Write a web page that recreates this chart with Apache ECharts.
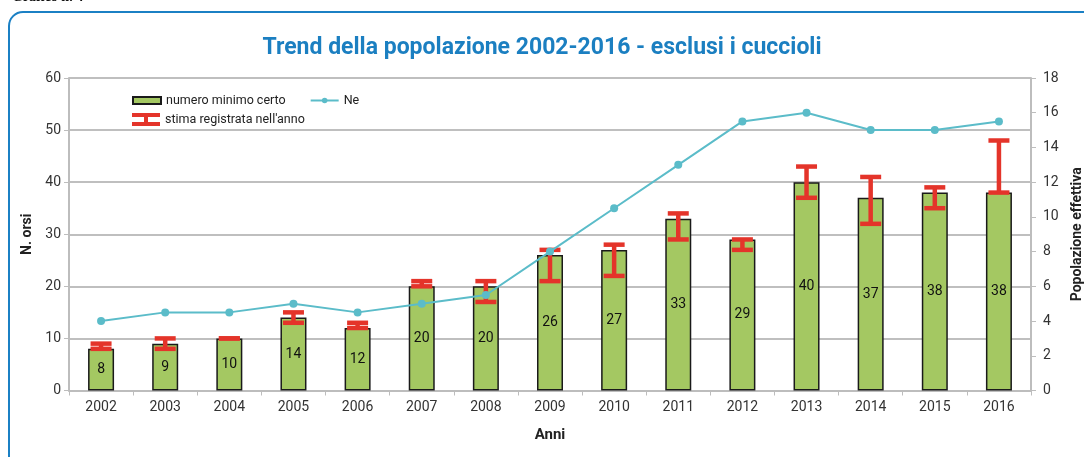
<!DOCTYPE html>
<html>
<head>
<meta charset="utf-8">
<script src="https://cdn.jsdelivr.net/npm/echarts@6/dist/echarts.min.js"></script>
<style>
  html, body { margin: 0; padding: 0; background: #fff; }
  #chart { width: 1084px; height: 457px; }
</style>
</head>
<body>
<div id="chart"></div>
<script>
const years = ['2002','2003','2004','2005','2006','2007','2008','2009','2010','2011','2012','2013','2014','2015','2016']
// numero minimo certo
const minCerto = [8, 9, 10, 14, 12, 20, 20, 26, 27, 33, 29, 40, 37, 38, 38]
// stima registrata nell'anno (min / max)
const stimaMin = [8, 8, 10, 13, 12, 20, 17, 21, 22, 29, 27, 37, 32, 35, 38]
const stimaMax = [9, 10, 10, 15, 13, 21, 21, 27, 28, 34, 29, 43, 41, 39, 48]
// Ne - popolazione effettiva
const ne = [4, 4.5, 4.5, 5, 4.5, 5, 5.5, 8, 10.5, 13, 15.5, 16, 15, 15, 15.5]

const font = 'Roboto'
const red = '#e4342a'
const teal = '#5bbcc9'

const stimaData = years.map((y, i) => [i, stimaMin[i], stimaMax[i]])

function renderStima(params, api) {
  const x = api.value(0)
  const lo = api.coord([x, api.value(1)])
  const hi = api.coord([x, api.value(2)])
  const half = 10.5
  const st = { stroke: red, lineWidth: 4.5, lineCap: 'butt' }
  return {
    type: 'group',
    children: [
      { type: 'line', shape: { x1: lo[0], y1: lo[1], x2: hi[0], y2: hi[1] }, style: st },
      { type: 'line', shape: { x1: lo[0] - half, y1: lo[1], x2: lo[0] + half, y2: lo[1] }, style: st },
      { type: 'line', shape: { x1: hi[0] - half, y1: hi[1], x2: hi[0] + half, y2: hi[1] }, style: st }
    ]
  }
}

const chart = echarts.init(document.getElementById('chart'))

const options = {
  animation: false,
  textStyle: { fontFamily: font },
  title: {
    text: 'Trend della popolazione 2002-2016 - esclusi i cuccioli',
    left: 'center',
    top: 32,
    textStyle: { color: '#1b7fc1', fontSize: 23, fontWeight: 'bold', fontFamily: font }
  },
  graphic: [
    {
      type: 'rect',
      shape: { x: 9, y: 12, width: 1090, height: 480, r: 14 },
      style: { fill: 'none', stroke: '#1b80c4', lineWidth: 2 },
      silent: true
    },
    {
      type: 'text',
      left: 12,
      top: -10,
      style: { text: 'Grafico n. 4', font: 'bold 14px "Liberation Serif"', fill: '#111' }
    }
  ],
  legend: [
    {
      left: 127,
      top: 89,
      itemWidth: 28,
      itemHeight: 7,
      itemGap: 24,
      textStyle: { fontSize: 12.5, color: '#222', fontFamily: font },
      data: [
        { name: 'numero minimo certo', icon: 'rect' },
        { name: 'Ne' }
      ]
    },
    {
      left: 127,
      top: 108,
      itemWidth: 28,
      itemHeight: 13,
      textStyle: { fontSize: 12.5, color: '#222', fontFamily: font },
      data: [
        { name: "stima registrata nell'anno", icon: 'path://M0,0H28V4H16V9H28V13H0V9H12V4H0Z', itemStyle: { color: red } }
      ]
    }
  ],
  grid: { left: 69, right: 53, top: 78, bottom: 66.5, outerBoundsMode: 'none', containLabel: false },
  xAxis: {
    type: 'category',
    data: years,
    name: 'Anni',
    nameLocation: 'middle',
    nameGap: 37,
    nameTextStyle: { fontSize: 15, fontWeight: 'bold', color: '#222' },
    axisLine: { lineStyle: { color: '#bdbdbd', width: 2 } },
    axisTick: { show: true, length: 5, lineStyle: { color: '#bdbdbd', width: 1 } },
    axisLabel: { fontSize: 14, color: '#333', margin: 10 }
  },
  yAxis: [
    {
      type: 'value',
      min: 0,
      max: 60,
      interval: 10,
      name: 'N. orsi',
      nameLocation: 'middle',
      nameGap: 30,
      nameTextStyle: { fontSize: 14, fontWeight: 'bold', color: '#222' },
      axisLine: { show: true, lineStyle: { color: '#bdbdbd', width: 2 } },
      axisTick: { show: true, length: 5, lineStyle: { color: '#bdbdbd' } },
      axisLabel: { fontSize: 14, color: '#333', margin: 8 },
      splitLine: { lineStyle: { color: '#bfbfbf', width: 2 } }
    },
    {
      type: 'value',
      min: 0,
      max: 18,
      interval: 2,
      position: 'right',
      name: 'Popolazione effettiva',
      nameLocation: 'middle',
      nameGap: 39,
      nameRotate: 90,
      nameTextStyle: { fontSize: 14, fontWeight: 'bold', color: '#222' },
      axisLine: { show: true, lineStyle: { color: '#bdbdbd', width: 2 } },
      axisTick: { show: true, length: 5, lineStyle: { color: '#bdbdbd' } },
      axisLabel: { fontSize: 14, color: '#333', margin: 12 },
      splitLine: { show: false }
    }
  ],
  series: [
    {
      name: 'numero minimo certo',
      type: 'bar',
      data: minCerto,
      barWidth: 26,
      itemStyle: { color: '#a4c862', borderColor: '#1a1a1a', borderWidth: 1.5 },
      label: { show: true, position: 'inside', fontSize: 14, color: '#111', fontFamily: font },
      z: 2
    },
    {
      name: "stima registrata nell'anno",
      type: 'custom',
      renderItem: renderStima,
      data: stimaData,
      encode: { x: 0, y: [1, 2] },
      itemStyle: { color: red },
      z: 3
    },
    {
      name: 'Ne',
      type: 'line',
      yAxisIndex: 1,
      data: ne,
      symbol: 'circle',
      symbolSize: 8,
      lineStyle: { color: teal, width: 2 },
      itemStyle: { color: teal },
      z: 4
    }
  ]
}

chart.setOption(options)
</script>
</body>
</html>
